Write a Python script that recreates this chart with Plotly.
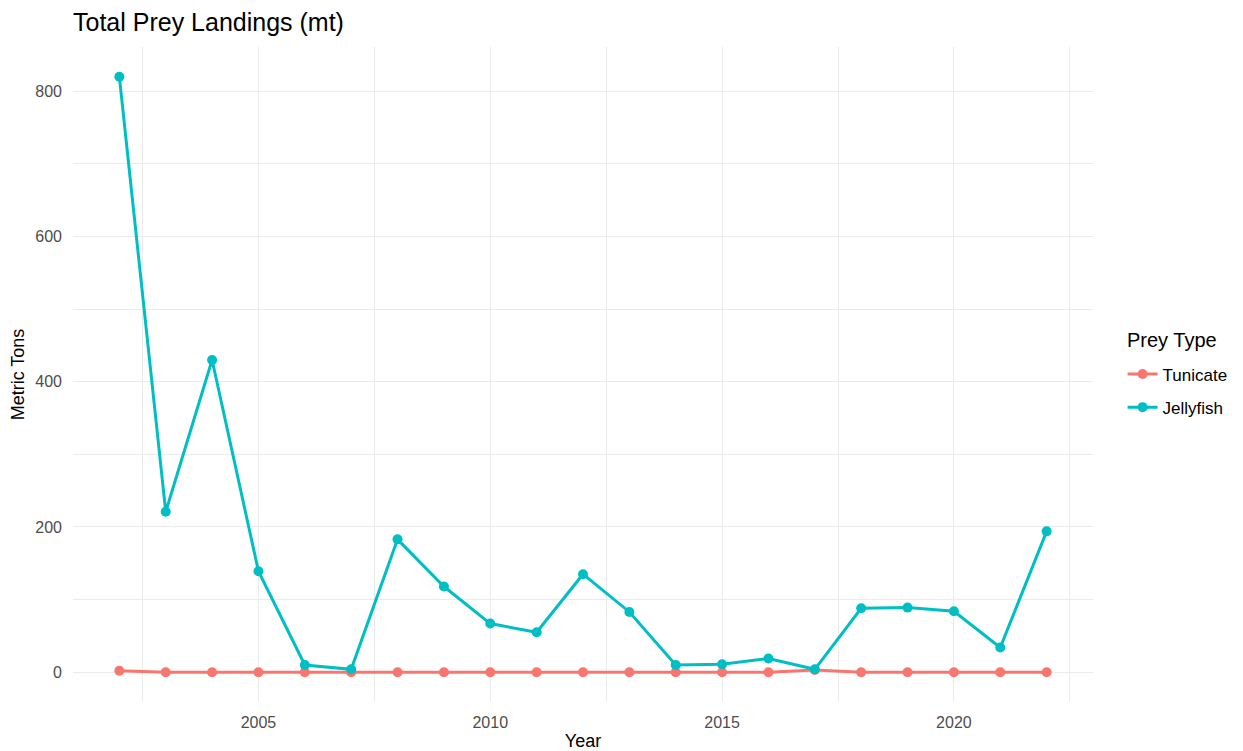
import plotly.graph_objects as go

years = list(range(2002, 2023))
tunicate = [2, 0, 0, 0, 0, 0, 0, 0, 0, 0, 0, 0, 0, 0, 0, 3, 0, 0, 0, 0, 0]
jellyfish = [820, 221, 430, 139, 10, 4, 183, 118, 67, 55, 135, 83, 10, 11, 19, 4, 88, 89, 84, 34, 194]

series_names = ["Tunicate", "Jellyfish"]
series_values = [tunicate, jellyfish]
series_colors = ["#F8766D", "#00BFC4"]
legend_title = "Prey Type"

fig = go.Figure()
for name, vals, col in zip(series_names, series_values, series_colors):
    fig.add_trace(go.Scatter(
        x=years, y=vals, name=name, legendgroup=name, mode="lines+markers",
        line=dict(color=col, width=3),
        marker=dict(color=col, size=10),
    ))

grid = "#EBEBEB"
W, H = 1227, 743
PL, PR, PT, PB = 65, 142, 39, 49
pw, ph = W - PL - PR, H - PT - PB
fig.update_layout(
    width=W, height=H,
    paper_bgcolor="white", plot_bgcolor="white",
    font=dict(family="Liberation Sans, Arial, sans-serif", color="#000000"),
    margin=dict(l=PL, r=PR, t=PT, b=PB, autoexpand=False),
    title=dict(text="Total Prey Landings (mt)", x=PL / W, xanchor="left",
               y=1 - 14 / H, yanchor="middle", font=dict(size=25, color="#000000")),
    xaxis=dict(
        range=[2001, 2023], tick0=2005, dtick=5, showgrid=True, gridcolor=grid, gridwidth=1.2,
        zeroline=False, showline=False, ticks="", ticklabelstandoff=9,
        tickfont=dict(size=16, color="#4D4D4D"),
        title=dict(text="Year", font=dict(size=18, color="#000000"), standoff=12),
        minor=dict(tick0=2002.5, dtick=2.5, showgrid=True, gridcolor=grid, gridwidth=1),
    ),
    yaxis=dict(
        range=[-41, 861], tick0=0, dtick=200, showgrid=True, gridcolor=grid, gridwidth=1.2,
        zeroline=False, showline=False, ticks="", ticklabelstandoff=10,
        tickfont=dict(size=16, color="#4D4D4D"),
        title=dict(text="Metric Tons", font=dict(size=18, color="#000000"), standoff=6),
        minor=dict(tick0=100, dtick=200, showgrid=True, gridcolor=grid, gridwidth=1),
    ),
    legend=dict(
        x=1.029, xanchor="left", y=1 - (383 - PT) / ph, yanchor="middle",
        font=dict(size=17, color="#000000"), bgcolor="rgba(0,0,0,0)",
        traceorder="grouped", tracegroupgap=8,
    ),
    annotations=[dict(
        text=legend_title, xref="paper", yref="paper",
        x=(1117 - PL) / pw, xanchor="left",
        y=1 - (332 - PT) / ph, yanchor="middle", showarrow=False,
        font=dict(size=20, color="#000000"),
    )],
)

fig.write_html("out.html")
